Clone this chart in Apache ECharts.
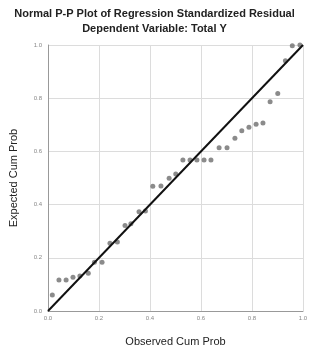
<!DOCTYPE html>
<html>
<head>
<meta charset="utf-8">
<script src="https://cdn.jsdelivr.net/npm/echarts@6/dist/echarts.min.js"></script>
<style>
  html, body { margin: 0; padding: 0; background: #fff; }
  #chart { width: 309px; height: 347px; }
</style>
</head>
<body>
<div id="chart"></div>
<script>
// observed vs expected cumulative probability
const observed = [
  0.017, 0.043, 0.071, 0.098, 0.125, 0.158, 0.182, 0.212, 0.243, 0.272,
  0.302, 0.325, 0.357, 0.382, 0.411, 0.443, 0.475, 0.501, 0.529, 0.557,
  0.584, 0.612, 0.639, 0.671, 0.702, 0.733, 0.760, 0.788, 0.816, 0.843,
  0.871, 0.901, 0.931, 0.958, 0.988
];
const expected = [
  0.060, 0.117, 0.117, 0.127, 0.132, 0.142, 0.183, 0.183, 0.255, 0.259,
  0.321, 0.328, 0.373, 0.376, 0.469, 0.470, 0.499, 0.515, 0.568, 0.568,
  0.568, 0.568, 0.568, 0.614, 0.614, 0.649, 0.678, 0.691, 0.702, 0.707,
  0.787, 0.818, 0.941, 0.997, 1.000
];
const refLine = [[0, 0], [1, 1]];

const chart = echarts.init(document.getElementById("chart"));
const tickFmt = (v) => v.toFixed(1);
const textFont = "Arial";

chart.setOption({
  animation: false,
  title: [
    {
      text: "Normal P-P Plot of Regression Standardized Residual",
      left: "center",
      top: 3,
      textStyle: { fontFamily: textFont, fontSize: 11, fontWeight: "bold", color: "#222" },
    },
    {
      text: "Dependent Variable: Total Y",
      left: "center",
      top: 18,
      textStyle: { fontFamily: textFont, fontSize: 11, fontWeight: "bold", color: "#222" },
    },
  ],
  grid: { left: 48, right: 6, top: 45, bottom: 36, outerBoundsMode: "none" },
  xAxis: {
    type: "value",
    min: 0,
    max: 1,
    interval: 0.2,
    name: "Observed Cum Prob",
    nameLocation: "middle",
    nameGap: 25,
    nameTextStyle: { fontFamily: textFont, fontSize: 11, color: "#222" },
    axisLine: { lineStyle: { color: "#999" } },
    axisTick: { show: false },
    axisLabel: { formatter: tickFmt, fontSize: 6, color: "#888", margin: 4 },
    splitLine: { lineStyle: { color: "#dcdcdc" } },
  },
  yAxis: {
    type: "value",
    min: 0,
    max: 1,
    interval: 0.2,
    name: "Expected Cum Prob",
    nameLocation: "middle",
    nameGap: 29,
    nameTextStyle: { fontFamily: textFont, fontSize: 11, color: "#222" },
    axisLine: { show: true, lineStyle: { color: "#999" } },
    axisTick: { show: false },
    axisLabel: { formatter: tickFmt, fontSize: 6, color: "#888", margin: 6 },
    splitLine: { lineStyle: { color: "#dcdcdc" } },
  },
  series: [
    {
      type: "line",
      data: refLine,
      symbol: "none",
      lineStyle: { color: "#111", width: 2 },
      z: 3,
    },
    {
      type: "scatter",
      data: observed.map((x, i) => [x, expected[i]]),
      symbol: "circle",
      symbolSize: 5,
      itemStyle: { color: "#6e6e6e" },
      z: 2,
    },
  ],
});
</script>
</body>
</html>
